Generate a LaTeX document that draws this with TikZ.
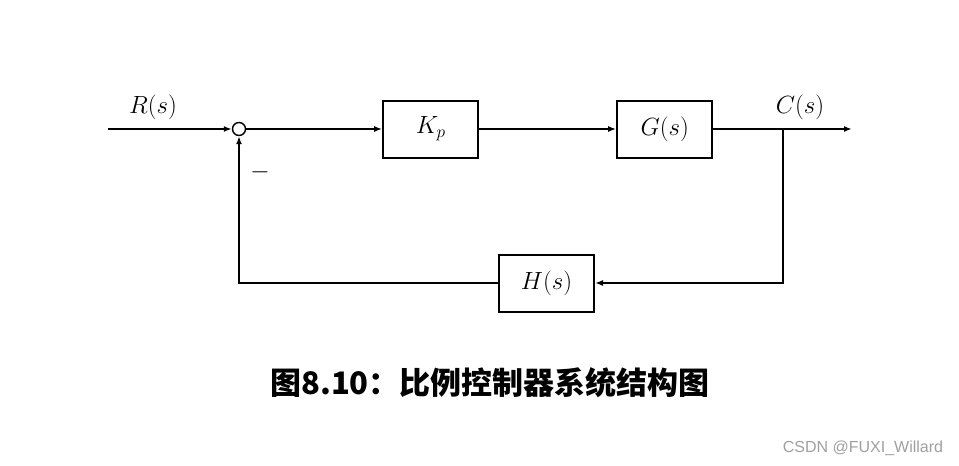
\documentclass[tikz,border=0pt]{standalone}
\usepackage{fontspec}
\usepackage{tikz}
\usetikzlibrary{arrows.meta,positioning}
\newfontfamily\cjk{Noto Sans CJK SC}
\newfontfamily\wmfont{Liberation Sans}

\begin{document}
\begin{tikzpicture}[
    x=1pt, y=-1pt,
    block/.style={rectangle, draw, line width=2pt, minimum width=95pt, minimum height=57pt, inner sep=0pt, font=\fontsize{23}{25}\selectfont},
    sumnode/.style={circle, draw, line width=1.4pt, minimum size=13pt, inner sep=0pt},
    sig/.style={font=\fontsize{23}{25}\selectfont, inner sep=0pt},
    arrow/.style={-{Latex[length=8pt,width=6pt]}, line width=2pt}
]
    \useasboundingbox (0,0) rectangle (959,466);
    \node[sumnode] (sum) at (239,129) {};
    \node[block, right=136pt of sum] (kp) {$K_p$};
    \node[block, right=137pt of kp] (plant) {$G(s)$};
    \node[block] (fb) at (546.5,283) {$H(s)$};
    \coordinate (in) at (108,129);
    \coordinate (out) at (852,129);
    \coordinate (branch) at (783,129);

    \node[sig] (rlabel) at (153,107) {$R(s)$};
    \node[sig] (clabel) at (800,107) {$C(s)$};
    \node[sig] (minus) at (260,172) {$-$};

    \draw[arrow] (in) -- (sum);
    \draw[arrow] (sum) -- (kp);
    \draw[arrow] (kp) -- (plant);
    \draw[arrow] (plant) -- (out);
    \draw[arrow] (branch) |- (fb);
    \draw[arrow] (fb) -| (sum);

    \node[font=\cjk\bfseries\fontsize{31}{34}\selectfont] (caption) at (490,383) {图8.10：比例控制器系统结构图};
    \node[font=\wmfont\fontsize{16}{18}\selectfont, text=gray!75] (mark) at (863,448) {CSDN @FUXI\_Willard};
\end{tikzpicture}
\end{document}
